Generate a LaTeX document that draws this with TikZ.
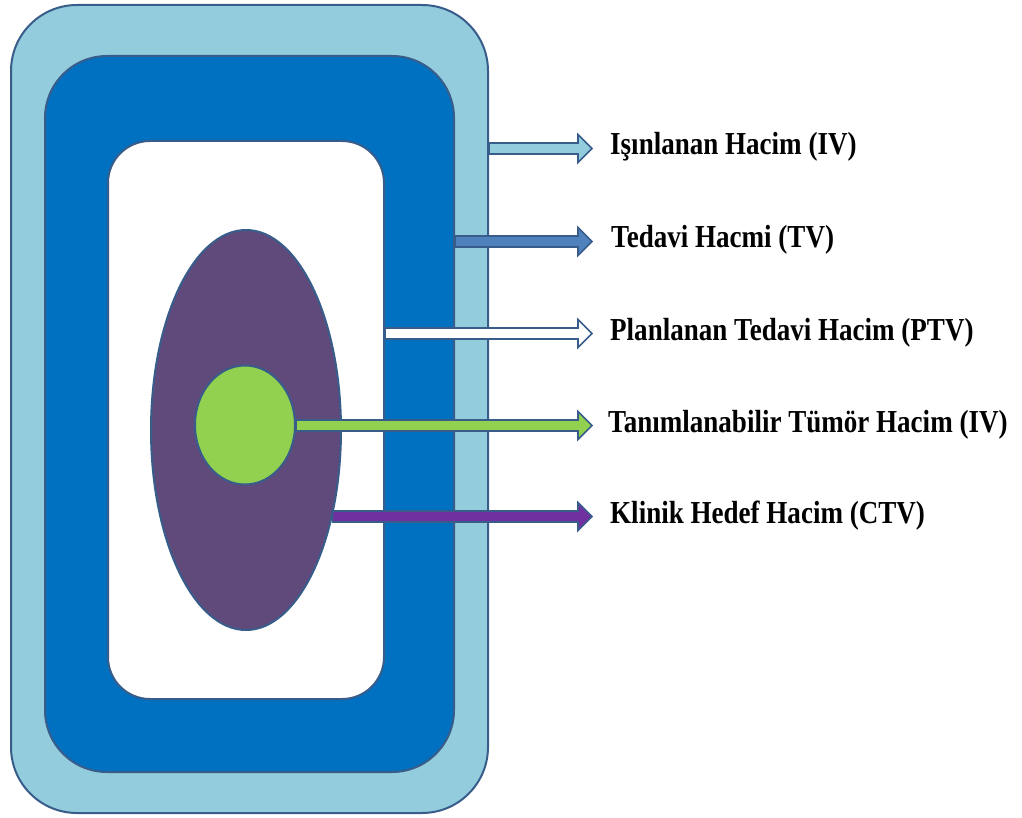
\documentclass[tikz,border=0pt]{standalone}
\usepackage{fontspec}
\setmainfont{Liberation Serif}
\newfontfamily\labelfont[FakeStretch=0.845]{Liberation Serif}
\usetikzlibrary{shapes.geometric}

\definecolor{edge}{HTML}{385D8A}
\definecolor{aqua}{HTML}{93CDDD}
\definecolor{midblue}{HTML}{0070C0}
\definecolor{plum}{HTML}{5F4A7B}
\definecolor{lime}{HTML}{92D050}
\definecolor{steel}{HTML}{4F81BD}
\definecolor{ctvpurple}{HTML}{7030A0}

% block arrow from start coordinate #1 to tip coordinate #2, filled with #3
\newcommand\volarrow[3]{%
  \filldraw[arrowedge, fill=#3]
    ([yshift=5.5pt]#1) -- ([xshift=-14pt,yshift=5.5pt]#2)
    -- ([xshift=-14pt,yshift=14pt]#2) -- (#2)
    -- ([xshift=-14pt,yshift=-14pt]#2) -- ([xshift=-14pt,yshift=-5.5pt]#2)
    -- ([yshift=-5.5pt]#1) -- cycle;}

\begin{document}
\begin{tikzpicture}[x=1pt,y=-1pt,
  volume/.style={draw=edge, line width=2pt, inner sep=0pt},
  arrowedge/.style={draw=edge, line width=1.6pt, line join=miter},
  voltext/.style={anchor=base west, inner sep=0pt, text height=20pt, text depth=7pt,
    font=\labelfont\bfseries\fontsize{32}{32}\selectfont}]
\useasboundingbox (0,0) rectangle (1022,818);

% nested volumes
\node[volume, fill=aqua, rounded corners=66pt, minimum width=477pt, minimum height=808pt] (iv) at (249.5,409) {};
\node[volume, fill=midblue, rounded corners=62pt, minimum width=409pt, minimum height=716pt] (tv) at (249.5,414) {};
\node[volume, fill=white, rounded corners=42pt, minimum width=276pt, minimum height=558pt] (ptv) at (246,420) {};
\node[volume, ellipse, fill=plum, minimum width=190pt, minimum height=400pt] (ctv) at (246,430) {};
\node[volume, ellipse, fill=lime, minimum width=100pt, minimum height=119pt] (gtv) at (245,425) {};

% labels
\node[voltext] (l1) at (610,155) {Işınlanan Hacim (IV)};
\node[voltext] (l2) at (611,248) {Tedavi Hacmi (TV)};
\node[voltext] (l3) at (610,340) {Planlanan Tedavi Hacim (PTV)};
\node[voltext] (l4) at (608,432) {Tanımlanabilir Tümör Hacim (IV)};
\node[voltext] (l5) at (610,523) {Klinik Hedef Hacim (CTV)};

% arrow tips and starts
\coordinate (h1) at ([xshift=-18pt]l1.west);
\coordinate (h2) at ([xshift=-19pt]l2.west);
\coordinate (h3) at ([xshift=-18pt]l3.west);
\coordinate (h4) at ([xshift=-16pt]l4.west);
\coordinate (h5) at ([xshift=-18pt]l5.west);
\coordinate (s1) at (iv.east |- h1);
\coordinate (s2) at (tv.east |- h2);
\coordinate (s3) at (ptv.east |- h3);
\coordinate (s4) at (gtv.east |- h4);
\coordinate (s5) at (ctv.-45 |- h5);

\volarrow{s1}{h1}{aqua}
\volarrow{s2}{h2}{steel}
\volarrow{s3}{h3}{white}
\volarrow{s4}{h4}{lime}
\volarrow{s5}{h5}{ctvpurple}
\end{tikzpicture}
\end{document}
